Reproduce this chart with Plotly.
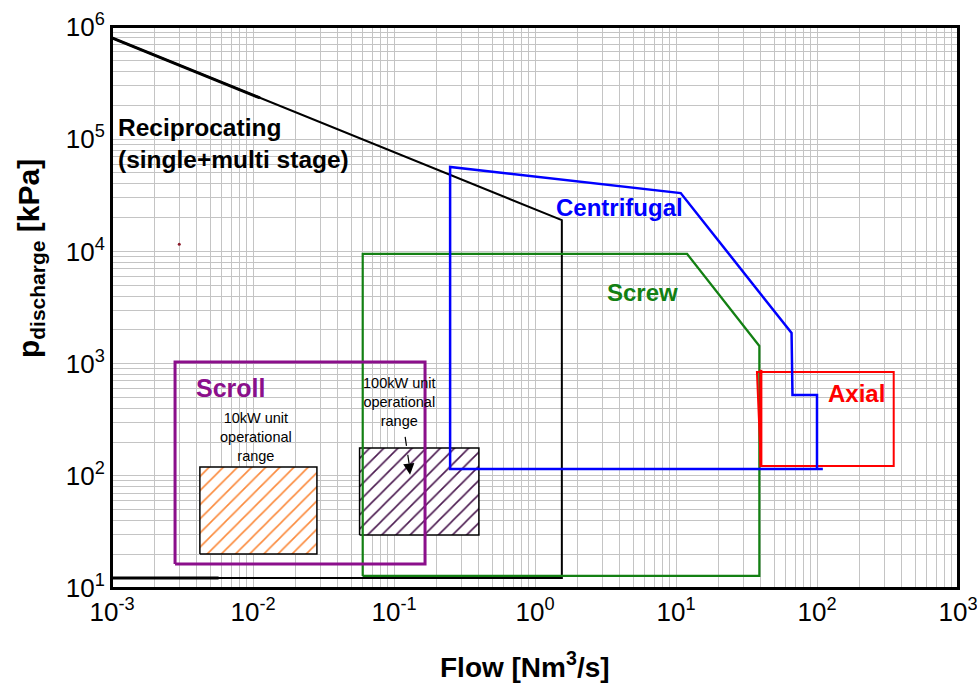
import numpy as np
import plotly.graph_objects as go

# Operating envelopes of compressor types: flow [Nm3/s] vs discharge pressure [kPa]
recip_x = [0.001, 1.55, 1.55, 0.001]
recip_y = [8.0e5, 1.9e4, 12.3, 12.3]
# doubled stroke at the start of the reciprocating outline
recip_top_x = [0.001, 0.0112]
recip_top_y = [8.0e5, 2.33e5]
recip_bot_x = [0.001, 0.0057]
recip_bot_y = [12.3, 12.3]

centrif_x = [110, 0.25, 0.25, 10.8, 66, 67, 100, 100]
centrif_y = [115, 115, 5.65e4, 3.31e4, 1875, 525, 525, 115]

screw_x = [0.06, 0.06, 12, 39, 39, 0.06]
screw_y = [12.8, 9490, 9490, 1435, 12.8, 12.8]

scroll_x = [0.0028, 0.0028, 0.166, 0.166, 0.0028]
scroll_y = [16.4, 1032, 1032, 16.4, 16.4]

axial_x = [40, 37.5, 350, 350, 40, 40]
axial_y = [122, 841, 841, 122, 122, 841]
axial_left_x = [40, 40]
axial_left_y = [120, 880]

unit10_x = [0.0042, 0.0042, 0.0284, 0.0284, 0.0042]
unit10_y = [20.1, 120, 120, 20.1, 20.1]

unit100_x = [0.057, 0.057, 0.40, 0.40, 0.057]
unit100_y = [29.7, 177, 177, 29.7, 29.7]

stray_x = [0.003]
stray_y = [1.16e4]

x_tickvals = [1e-3, 1e-2, 1e-1, 1e0, 1e1, 1e2, 1e3]
x_ticktext = ["10<sup>-3</sup>", "10<sup>-2</sup>", "10<sup>-1</sup>", "10<sup>0</sup>",
              "10<sup>1</sup>", "10<sup>2</sup>", "10<sup>3</sup>"]
y_tickvals = [1e1, 1e2, 1e3, 1e4, 1e5, 1e6]
y_ticktext = ["10<sup>1</sup>", "10<sup>2</sup>", "10<sup>3</sup>", "10<sup>4</sup>",
              "10<sup>5</sup>", "10<sup>6</sup>"]

fig = go.Figure()

# hatched unit ranges
fig.add_trace(go.Scatter(x=unit10_x, y=unit10_y, mode="lines", fill="toself",
                         fillcolor="rgba(0,0,0,0)",
                         fillpattern=dict(shape="/", fgcolor="#fb8a3c", bgcolor="white",
                                          fgopacity=1, size=10, solidity=0.16),
                         line=dict(color="black", width=1.5), hoverinfo="skip"))
fig.add_trace(go.Scatter(x=unit100_x, y=unit100_y, mode="lines", fill="toself",
                         fillcolor="rgba(0,0,0,0)",
                         fillpattern=dict(shape="/", fgcolor="#4b1a50", bgcolor="white",
                                          fgopacity=1, size=10, solidity=0.16),
                         line=dict(color="black", width=1.5), hoverinfo="skip"))

fig.add_trace(go.Scatter(x=recip_x, y=recip_y, mode="lines",
                         line=dict(color="black", width=2)))
fig.add_trace(go.Scatter(x=recip_top_x, y=recip_top_y, mode="lines",
                         line=dict(color="black", width=3)))
fig.add_trace(go.Scatter(x=recip_bot_x, y=recip_bot_y, mode="lines",
                         line=dict(color="black", width=3)))
fig.add_trace(go.Scatter(x=screw_x, y=screw_y, mode="lines",
                         line=dict(color="#138013", width=2.2)))
fig.add_trace(go.Scatter(x=scroll_x, y=scroll_y, mode="lines",
                         line=dict(color="#8b0f8b", width=3)))
fig.add_trace(go.Scatter(x=axial_x, y=axial_y, mode="lines",
                         line=dict(color="#ff0000", width=2)))
fig.add_trace(go.Scatter(x=axial_left_x, y=axial_left_y, mode="lines",
                         line=dict(color="#ff0000", width=3)))
fig.add_trace(go.Scatter(x=centrif_x, y=centrif_y, mode="lines",
                         line=dict(color="#0000ff", width=2.5)))
fig.add_trace(go.Scatter(x=stray_x, y=stray_y, mode="markers",
                         marker=dict(color="#8b1a2a", size=3)))

# dashed pointer from the 100kW label into its box
arrow_x = [0.12, 0.13]
arrow_y = [222, 112]
fig.add_trace(go.Scatter(x=arrow_x, y=arrow_y, mode="lines",
                         line=dict(color="black", width=1.2, dash="dash")))

lx = np.log10
FONT = "Liberation Sans, Arial, sans-serif"
anns = [
    dict(x=lx(0.00106), y=lx(9.25e4), text="<b>Reciprocating<br>(single+multi stage)</b>",
         xanchor="left", align="left", font=dict(size=24.5, color="black")),
    dict(x=lx(4.0), y=lx(2.44e4), text="<b>Centrifugal</b>",
         font=dict(size=24, color="#0000ff")),
    dict(x=lx(5.83), y=lx(4260), text="<b>Screw</b>",
         font=dict(size=24, color="#138013")),
    dict(x=lx(0.0069), y=lx(607), text="<b>Scroll</b>",
         font=dict(size=25, color="#8b0f8b")),
    dict(x=lx(192), y=lx(536), text="<b>Axial</b>",
         font=dict(size=24, color="#ff0000")),
    dict(x=lx(0.0105), y=lx(222), text="10kW unit<br>operational<br>range",
         font=dict(size=14.5, color="black")),
    dict(x=lx(0.110), y=lx(455), text="100kW unit<br>operational<br>range",
         font=dict(size=14.5, color="black")),
]
for a in anns:
    a.update(xref="x", yref="y", showarrow=False)
    a.setdefault("xanchor", "center")
    a["yanchor"] = "middle"
    a["font"]["family"] = FONT
    fig.add_annotation(**a)

# arrowhead at the end of the dashed pointer
fig.add_annotation(x=lx(0.13), y=lx(102), ax=lx(0.127), ay=lx(131), xref="x", yref="y",
                   axref="x", ayref="y", text="", showarrow=True,
                   arrowhead=2, arrowsize=1.4, arrowwidth=1.6, arrowcolor="black")

# axis titles, placed beside the axes
fig.add_annotation(x=-0.097, y=0.588, xref="paper", yref="paper",
                   text="<b>p<sub>discharge</sub> [kPa]</b>", textangle=-90,
                   showarrow=False, xanchor="center", yanchor="middle",
                   font=dict(family=FONT, size=30, color="black"))
fig.add_annotation(x=0.488, y=-0.137, xref="paper", yref="paper",
                   text="<b>Flow [Nm<sup>3</sup>/s]</b>",
                   showarrow=False, xanchor="center", yanchor="middle",
                   font=dict(family=FONT, size=28, color="black"))

# plot frame
fig.add_shape(type="rect", xref="paper", yref="paper", x0=0, y0=0, x1=1, y1=1,
              line=dict(color="black", width=2), layer="above")

grid_col = "#c4c4c4"
axis_common = dict(
    type="log", showline=True, linecolor="black", linewidth=2, mirror=True,
    showgrid=True, gridcolor=grid_col, gridwidth=1, ticks="", zeroline=False,
    automargin=False, ticklabeloverflow="allow",
    tickfont=dict(family="Liberation Sans Narrow, Arial Narrow, Liberation Sans, Arial",
                  size=26, color="black"),
    minor=dict(dtick="D1", showgrid=True, gridcolor=grid_col, gridwidth=1, ticks=""),
)

fig.update_xaxes(**axis_common, range=[-3, 3], tickvals=x_tickvals, ticktext=x_ticktext)
fig.update_yaxes(**axis_common, range=[1, 6], tickvals=y_tickvals, ticktext=y_ticktext)

fig.update_layout(
    width=977, height=687, showlegend=False,
    margin=dict(l=112, r=19, t=27, b=99),
    plot_bgcolor="white", paper_bgcolor="white",
)

fig.write_html("out.html")
